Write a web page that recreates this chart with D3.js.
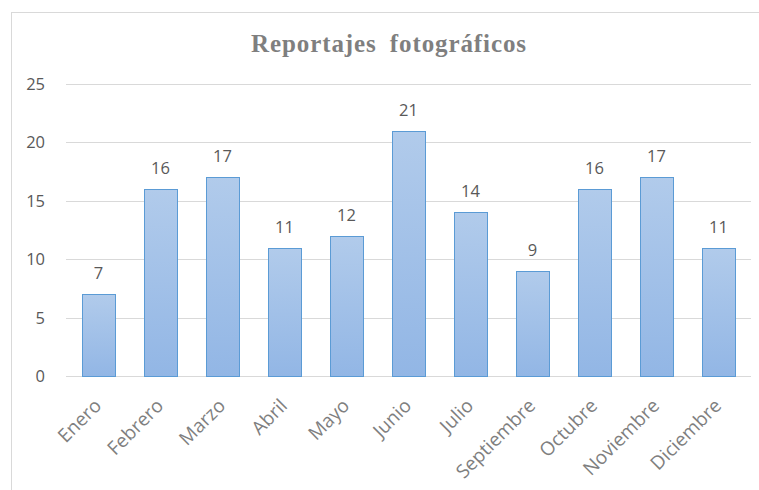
<!DOCTYPE html>
<html>
<head>
<meta charset="utf-8">
<script src="https://cdn.jsdelivr.net/npm/d3@7"></script>
<style>
  body { margin: 0; background: #fff; }
  text { font-family: "Open Sans", "Noto Sans", sans-serif; }
</style>
</head>
<body>
<div id="chart"></div>
<script>
// Data
const months = ['Enero', 'Febrero', 'Marzo', 'Abril', 'Mayo', 'Junio', 'Julio',
                'Septiembre', 'Octubre', 'Noviembre', 'Diciembre'];
const reportajes = [7, 16, 17, 11, 12, 21, 14, 9, 16, 17, 11];
const yTicks = [0, 5, 10, 15, 20, 25];
const chartTitle = 'Reportajes fotográficos';

const width = 759, height = 490;
const plotLeft = 66, plotRight = 751, plotTop = 84, plotBottom = 376;

const svg = d3.select('#chart').append('svg')
    .attr('width', width)
    .attr('height', height);

// Gradient for the bars (lighter at the top)
const grad = svg.append('defs').append('linearGradient')
    .attr('id', 'barFill')
    .attr('x1', 0).attr('y1', 0).attr('x2', 0).attr('y2', 1);
grad.append('stop').attr('offset', '0%').attr('stop-color', '#b1cbeb');
grad.append('stop').attr('offset', '100%').attr('stop-color', '#92b6e5');

// Chart frame (only top and left edges are visible in the crop)
svg.append('rect')
    .attr('x', 11.5).attr('y', 12.5)
    .attr('width', 800).attr('height', 600)
    .attr('fill', 'none')
    .attr('stroke', '#d9d9d9');

const x = d3.scaleBand()
    .domain(months)
    .range([plotLeft, plotRight])
    .paddingInner(0.47)
    .paddingOuter(0.26);

const y = d3.scaleLinear()
    .domain([0, 25])
    .range([plotBottom, plotTop]);

// Gridlines
svg.append('g')
    .selectAll('line')
    .data(yTicks)
    .join('line')
    .attr('x1', plotLeft).attr('x2', plotRight)
    .attr('y1', d => Math.round(y(d)) + 0.5)
    .attr('y2', d => Math.round(y(d)) + 0.5)
    .attr('stroke', '#d9d9d9')
    .attr('stroke-width', 1);

// Y tick labels
svg.append('g')
    .selectAll('text')
    .data(yTicks)
    .join('text')
    .attr('x', 45)
    .attr('y', d => y(d) + 6)
    .attr('text-anchor', 'end')
    .attr('font-size', 16.5)
    .attr('fill', '#595959')
    .text(d => d);

// Bars
svg.append('g')
    .selectAll('rect')
    .data(reportajes)
    .join('rect')
    .attr('x', (d, i) => Math.round(x(months[i])) + 0.5)
    .attr('y', d => Math.round(y(d)) + 0.5)
    .attr('width', Math.round(x.bandwidth()))
    .attr('height', d => Math.round(y(0)) - Math.round(y(d)))
    .attr('fill', 'url(#barFill)')
    .attr('stroke', '#5b9bd5')
    .attr('stroke-width', 1);

// Value labels
svg.append('g')
    .selectAll('text')
    .data(reportajes)
    .join('text')
    .attr('x', (d, i) => x(months[i]) + x.bandwidth() / 2)
    .attr('y', d => y(d) - 15)
    .attr('text-anchor', 'middle')
    .attr('font-size', 16.5)
    .attr('fill', '#595959')
    .text(d => d);

// Category labels, rotated -45deg
svg.append('g')
    .selectAll('text')
    .data(months)
    .join('text')
    .attr('transform', d => `translate(${x(d) + x.bandwidth() / 2 + 4},${plotBottom + 31}) rotate(-45)`)
    .attr('text-anchor', 'end')
    .attr('font-size', 19)
    .attr('fill', '#7f7f7f')
    .text(d => d);

// Title
svg.append('text')
    .attr('x', 389)
    .attr('y', 52)
    .attr('text-anchor', 'middle')
    .attr('font-weight', 'bold')
    .attr('font-size', 25)
    .attr('letter-spacing', 0.9)
    .attr('word-spacing', 6)
    .attr('fill', '#7f7f7f')
    .style('font-family', '"Liberation Serif", serif')
    .text(chartTitle);
</script>
</body>
</html>
